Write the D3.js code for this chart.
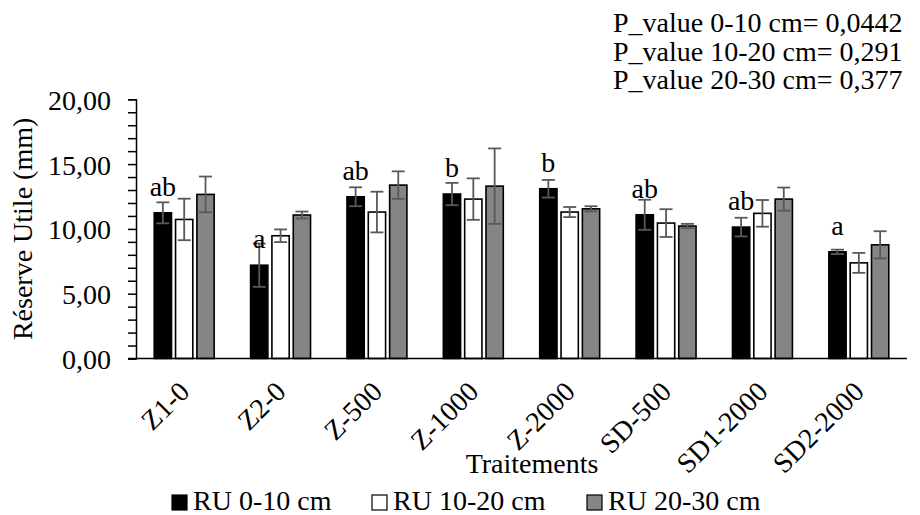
<!DOCTYPE html>
<html><head><meta charset="utf-8">
<script src="https://cdn.jsdelivr.net/npm/d3@7"></script>
<style>body{margin:0;background:#fff;}</style>
</head>
<body>
<svg id="c" width="920" height="515" font-family="Liberation Serif"></svg>
<script>
const categories = ["Z1-0","Z2-0","Z-500","Z-1000","Z-2000","SD-500","SD1-2000","SD2-2000"];
const seriesNames = ["RU 0-10 cm","RU 10-20 cm","RU 20-30 cm"];
const ru0_10  = [11.24, 7.2, 12.48, 12.69, 13.1, 11.09, 10.14, 8.23];
const ru10_20 = [10.73, 9.47, 11.3, 12.3, 11.3, 10.45, 11.2, 7.38];
const ru20_30 = [12.66, 11.07, 13.38, 13.3, 11.55, 10.22, 12.3, 8.77];
const err0_10  = [0.81, 1.67, 0.73, 0.86, 0.68, 1.16, 0.72, 0.17];
const err10_20 = [1.6, 0.49, 1.57, 1.6, 0.39, 1.07, 1.03, 0.77];
const err20_30 = [1.38, 0.27, 1.06, 2.91, 0.2, 0.17, 0.89, 1.05];
const letters = ["ab","a","ab","b","b","ab","ab","a"];
const yTicks = [0,5,10,15,20];
const pValues = ["P_value 0-10 cm= 0,0442","P_value 10-20 cm= 0,291","P_value 20-30 cm= 0,377"];
const colors = ["#000000","#ffffff","#858585"];

const series = [ru0_10, ru10_20, ru20_30];
const errs = [err0_10, err10_20, err20_30];

const svg = d3.select("#c");
const pLeft = 136, pRight = 907, pTop = 99.3, pBottom = 358.5;
const FS = 28;

const x = d3.scaleBand().domain(categories).range([pLeft, pRight]).paddingInner(0.378).paddingOuter(0.189);
const x1 = d3.scaleBand().domain(d3.range(3)).range([0, x.bandwidth()]).paddingInner(0.19);
const y = d3.scaleLinear().domain([0, 20]).range([pBottom, pTop]);

// Y axis with minor ticks
const yAxis = svg.append("g").attr("transform", `translate(${pLeft},0)`);
yAxis.call(d3.axisLeft(y).tickValues(d3.range(0, 21, 1)).tickSize(8).tickFormat(d => yTicks.includes(d) ? d3.format(".2f")(d).replace(".", ",") : ""));
yAxis.attr("font-family", null).attr("font-size", null);
yAxis.select(".domain").attr("stroke", "#000").attr("stroke-width", 1.5);
yAxis.selectAll(".tick line").attr("stroke", "#000").attr("stroke-width", 1.5);
yAxis.selectAll(".tick text").attr("font-size", FS).attr("fill", "#000").attr("x", -25).attr("dy", "0.36em");

// bars
const groups = svg.append("g").selectAll("g").data(categories).join("g")
  .attr("transform", d => `translate(${x(d)},0)`);

series.forEach((s, si) => {
  groups.append("rect")
    .attr("x", x1(si))
    .attr("width", x1.bandwidth())
    .attr("y", (d, i) => y(s[i]))
    .attr("height", (d, i) => pBottom - y(s[i]))
    .attr("fill", colors[si])
    .attr("stroke", "#000").attr("stroke-width", 1.6);
});

// error bars
series.forEach((s, si) => {
  const cx = x1(si) + x1.bandwidth() / 2;
  const e = errs[si];
  groups.append("line")
    .attr("x1", cx).attr("x2", cx)
    .attr("y1", (d, i) => y(s[i] + e[i])).attr("y2", (d, i) => y(s[i] - e[i]))
    .attr("stroke", "#595959").attr("stroke-width", 1.8);
  groups.append("line")
    .attr("x1", cx - 6.5).attr("x2", cx + 6.5)
    .attr("y1", (d, i) => y(s[i] + e[i])).attr("y2", (d, i) => y(s[i] + e[i]))
    .attr("stroke", "#595959").attr("stroke-width", 1.8);
  groups.append("line")
    .attr("x1", cx - 6.5).attr("x2", cx + 6.5)
    .attr("y1", (d, i) => y(s[i] - e[i])).attr("y2", (d, i) => y(s[i] - e[i]))
    .attr("stroke", "#595959").attr("stroke-width", 1.8);
});

// letters
groups.append("text")
  .attr("x", x1(0) + x1.bandwidth() / 2)
  .attr("y", (d, i) => y(ru0_10[i]) - 17)
  .attr("text-anchor", "middle").attr("font-size", FS)
  .text((d, i) => letters[i]);

// X axis
svg.append("line").attr("x1", pLeft - 8).attr("x2", pRight).attr("y1", pBottom).attr("y2", pBottom)
  .attr("stroke", "#000").attr("stroke-width", 1.5);
svg.append("g").selectAll("text").data(categories).join("text")
  .attr("transform", d => `translate(${x(d) + x.bandwidth() / 2 - 7},${pBottom + 21}) rotate(-45)`)
  .attr("text-anchor", "end").attr("dy", "0.7em").attr("font-size", FS)
  .text(d => d);

// axis titles
svg.append("text").attr("x", 532).attr("y", 473).attr("text-anchor", "middle").attr("font-size", FS).text("Traitements");
svg.append("text").attr("transform", `translate(32,${(pTop + pBottom) / 2}) rotate(-90)`)
  .attr("text-anchor", "middle").attr("font-size", FS).text("Réserve Utile (mm)");

// p values
svg.append("g").selectAll("text").data(pValues).join("text")
  .attr("x", 613).attr("y", (d, i) => 31.7 + i * 28.8).attr("font-size", FS).text(d => d);

// legend
const legX = [172, 372, 587];
const leg = svg.append("g").selectAll("g").data(seriesNames).join("g")
  .attr("transform", (d, i) => `translate(${legX[i]},495)`);
leg.append("rect").attr("width", 15).attr("height", 15)
  .attr("fill", (d, i) => colors[i]).attr("stroke", "#000").attr("stroke-width", 1.2);
leg.append("text").attr("x", 21).attr("y", 15).attr("font-size", FS).text(d => d);

svg.selectAll("text")
  .attr("font-family", "Liberation Serif")
  .style("font-family", "'Liberation Serif', monospace")
  .style("fill", "#000");
</script>
</body></html>
